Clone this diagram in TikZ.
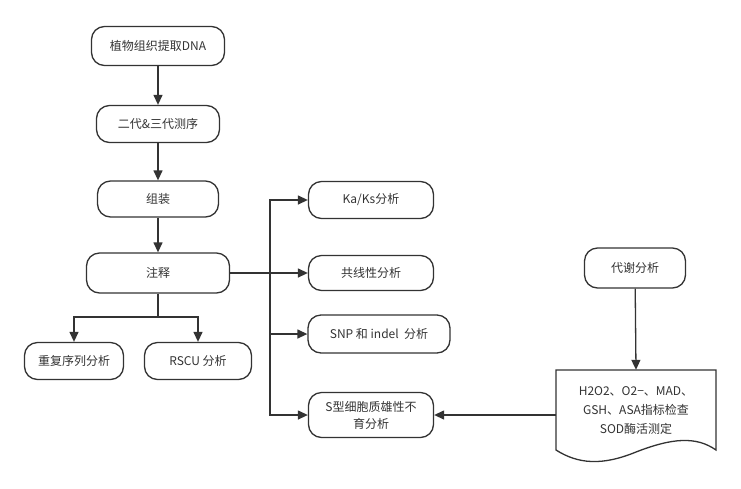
\documentclass[tikz,border=0pt]{standalone}
\usepackage{fontspec}
\setmainfont{Noto Sans CJK SC}
\usetikzlibrary{arrows.meta}
\definecolor{ink}{HTML}{333333}
\tikzset{
  box/.style={draw=ink, line width=1.3pt, rounded corners=13pt, text=ink,
    minimum height=38pt, inner sep=2pt, align=center, font=\fontsize{12pt}{17pt}\selectfont},
  conn/.style={draw=ink, line width=1.3pt},
  arr/.style={conn, -{Triangle[length=10pt,width=9pt]}},
}
\begin{document}
\begin{tikzpicture}[x=1pt,y=-1pt]
\useasboundingbox (0,0) rectangle (741,488);
\node[box, minimum width=133pt, minimum height=39pt] (n1) at (158,46) {植物组织提取DNA};
\node[box, minimum width=123pt, minimum height=37pt] (n2) at (158,124) {二代\&三代测序};
\node[box, minimum width=121pt, minimum height=36pt] (n3) at (158,199) {组装};
\node[box, minimum width=143pt, minimum height=40pt] (n4) at (158,273) {注释};
\node[box, minimum width=99pt, minimum height=37pt] (n5) at (74,361) {重复序列分析};
\node[box, minimum width=107pt, minimum height=37pt] (n6) at (198,361) {RSCU 分析};
\node[box, minimum width=125pt, minimum height=37pt] (n7) at (371,200) {Ka/Ks分析};
\node[box, minimum width=125pt, minimum height=35pt] (n8) at (371,273) {共线性分析};
\node[box, minimum width=142pt, minimum height=38pt] (n9) at (379,334) {SNP 和 indel\ \ 分析};
\node[box, minimum width=125pt, minimum height=45pt] (n10) at (371,415) {S型细胞质雄性不\\育分析};
\node[box, minimum width=101pt, minimum height=40pt] (n11) at (635,268) {代谢分析};
% document shape
\draw[draw=ink, line width=1.3pt, fill=white]
  (556,370) -- (716,370) -- (716,450)
  .. controls (696,436) and (672,438) .. (636,452)
  .. controls (602,466) and (578,464) .. (556,450) -- cycle;
\node[minimum width=160pt, minimum height=82pt, inner sep=0pt, text=ink, align=center,
  font=\fontsize{12pt}{19pt}\selectfont] (doc) at (636,411) {H2O2、O2−、MAD、\\GSH、ASA指标检查\\SOD酶活测定};
% connectors
\draw[arr] (n1) -- (n2);
\draw[arr] (n2) -- (n3);
\draw[arr] (n3) -- (n4);
\coordinate (j1) at (158,317);
\draw[conn] (n4.south) -- (j1);
\draw[arr] (j1) -| (n5.north);
\draw[arr] (j1) -| (n6.north);
\coordinate (j2) at (270,273);
\draw[arr] (n4.east) -- (n8.west);
\draw[arr] (j2) |- (n7.west);
\draw[arr] (j2) |- (n9.west);
\draw[arr] (j2) |- (n10.west);
\draw[arr] (n11) -- (doc.north);
\draw[arr] (doc.west |- n10.east) -- (n10.east);
\end{tikzpicture}
\end{document}
